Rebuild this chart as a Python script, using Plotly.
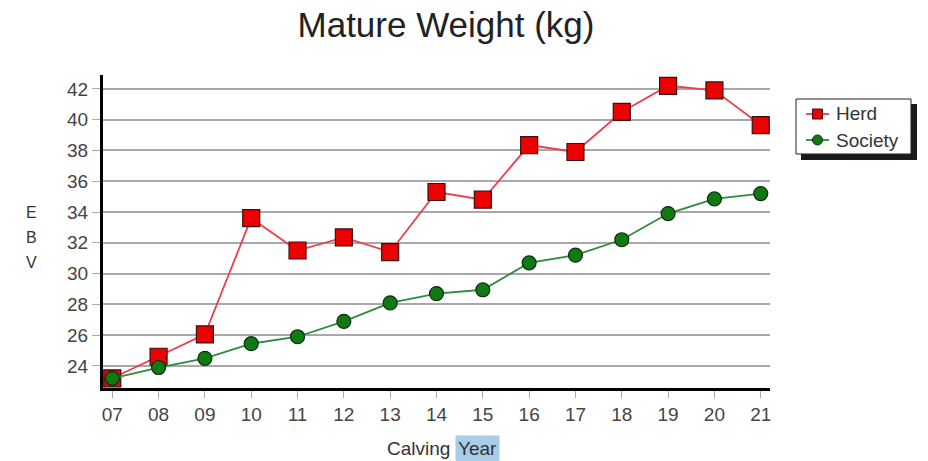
import plotly.graph_objects as go

# Calving years (two-digit labels) and EBV series
years = [7, 8, 9, 10, 11, 12, 13, 14, 15, 16, 17, 18, 19, 20, 21]
year_labels = ["07", "08", "09", "10", "11", "12", "13", "14", "15", "16", "17", "18", "19", "20", "21"]
herd = [23.2, 24.6, 26.05, 33.6, 31.5, 32.35, 31.4, 35.3, 34.8, 38.35, 37.9, 40.5, 42.2, 41.9, 39.65]
society = [23.2, 23.9, 24.5, 25.45, 25.9, 26.9, 28.1, 28.7, 28.95, 30.7, 31.2, 32.2, 33.9, 34.85, 35.2]
y_ticks = [24, 26, 28, 30, 32, 34, 36, 38, 40, 42]

FONT = "Liberation Sans, Arial, sans-serif"
HERD_LINE, HERD_FILL = "#e8404f", "#ee0000"
SOC_LINE, SOC_FILL = "#2e8b3a", "#0f7a12"

W, H = 928, 461
L, R, T, B = 103, 158, 75, 73
PW, PH = W - L - R, H - T - B


def px(x):
    """Horizontal pixel -> paper coordinate."""
    return (x - L) / PW


def py(y):
    """Vertical pixel (from top) -> paper coordinate."""
    return (H - B - y) / PH


fig = go.Figure()
fig.add_trace(go.Scatter(
    x=years, y=herd, name="Herd", mode="lines+markers",
    line=dict(color=HERD_LINE, width=1.8),
    marker=dict(symbol="square", size=17, color=HERD_FILL,
                line=dict(color="#3a1010", width=1.2)),
))
fig.add_trace(go.Scatter(
    x=years, y=society, name="Society", mode="lines+markers",
    line=dict(color=SOC_LINE, width=1.8),
    marker=dict(symbol="circle", size=14, color=SOC_FILL,
                line=dict(color="#102a10", width=1.2)),
))

fig.update_layout(
    width=W, height=H,
    margin=dict(l=L, r=R, t=T, b=B),
    paper_bgcolor="white", plot_bgcolor="white",
    font=dict(family=FONT, color="#333333"),
    title=dict(text="Mature Weight (kg)", x=446 / W, xanchor="center",
               y=1 - 25 / H, yanchor="middle",
               font=dict(size=35, color="#222222", family=FONT)),
    showlegend=False,
    xaxis=dict(range=[6.8, 21.2], tickmode="array", tickvals=years,
               ticktext=year_labels, showgrid=False, zeroline=False,
               showline=True, linecolor="black", linewidth=3,
               ticks="outside", ticklen=7, tickcolor="#aaaaaa",
               tickfont=dict(size=19, color="#444444")),
    yaxis=dict(range=[22.57, 42.9], tickmode="array", tickvals=y_ticks,
               showgrid=True, gridcolor="#a8a8a8", gridwidth=2,
               zeroline=False, showline=True, linecolor="black",
               linewidth=3, ticks="outside", ticklen=8,
               tickcolor="#aaaaaa",
               tickfont=dict(size=19, color="#444444")),
)

# Legend box with drop shadow
fig.add_shape(type="rect", xref="paper", yref="paper",
              x0=px(801), x1=px(917), y0=py(160), y1=py(104),
              fillcolor="#1a1a1a", line=dict(width=0))
fig.add_shape(type="rect", xref="paper", yref="paper",
              x0=px(796), x1=px(911), y0=py(154), y1=py(99),
              fillcolor="white", line=dict(color="#222222", width=1))

legend_rows = [("Herd", 114, HERD_LINE, HERD_FILL, "rect", "#3a1010"),
               ("Society", 140, SOC_LINE, SOC_FILL, "circle", "#102a10")]
for label, yc, lc, fc, kind, edge in legend_rows:
    fig.add_shape(type="line", xref="paper", yref="paper",
                  x0=px(806), x1=px(829), y0=py(yc), y1=py(yc),
                  line=dict(color=lc, width=1.8))
    fig.add_shape(type=kind, xref="paper", yref="paper",
                  x0=px(812.5), x1=px(822.5), y0=py(yc + 5), y1=py(yc - 5),
                  fillcolor=fc, line=dict(color=edge, width=1))
    fig.add_annotation(text=label, xref="paper", yref="paper",
                       x=px(834), y=py(yc), xanchor="left", yanchor="middle",
                       showarrow=False,
                       font=dict(size=19, color="#333333", family=FONT))

# Y axis title written letter by letter
for letter, yc in zip("EBV", [212, 237, 262]):
    fig.add_annotation(text=letter, xref="paper", yref="paper",
                       x=px(31), y=py(yc), xanchor="center", yanchor="middle",
                       showarrow=False,
                       font=dict(size=16, color="#333333", family=FONT))

# X axis title with highlighted word
fig.add_annotation(text="Calving", xref="paper", yref="paper",
                   x=px(452), y=py(448), xanchor="right", yanchor="middle",
                   showarrow=False,
                   font=dict(size=19, color="#333333", family=FONT))
fig.add_annotation(text="Year", xref="paper", yref="paper",
                   x=px(455), y=py(448), xanchor="left", yanchor="middle",
                   showarrow=False, bgcolor="#a9cce8", borderpad=2,
                   font=dict(size=19, color="#333333", family=FONT))

fig.write_html("out.html")
